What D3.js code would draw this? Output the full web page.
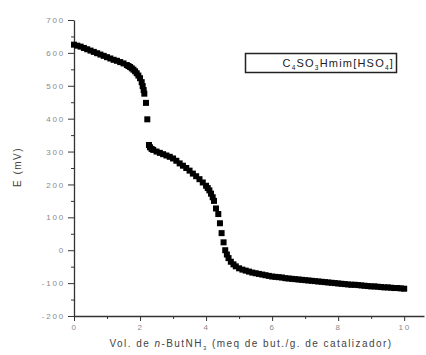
<!DOCTYPE html>
<html>
<head>
<meta charset="utf-8">
<script src="https://cdn.jsdelivr.net/npm/d3@7"></script>
<style>
  body { margin: 0; background: #fff; }
  svg { display: block; font-family: "Liberation Sans", Arial, sans-serif; }
</style>
</head>
<body>
<svg id="chart" width="426" height="355"></svg>
<script>
// Titration curve: volume of n-butylamine (meq/g) vs electrode potential (mV)
const volume = [
  0, 0.1, 0.2, 0.3, 0.4, 0.5, 0.6, 0.7, 0.8, 0.9,
  1.0, 1.1, 1.2, 1.3, 1.4, 1.5, 1.6, 1.65, 1.7, 1.75,
  1.8, 1.85, 1.9, 1.95, 2.0, 2.05, 2.08, 2.11, 2.13, 2.18,
  2.22, 2.27, 2.3, 2.35, 2.4, 2.5, 2.6, 2.7, 2.8, 2.9,
  3.0, 3.1, 3.2, 3.3, 3.4, 3.5, 3.6, 3.7, 3.8, 3.9,
  4.0, 4.05, 4.1, 4.15, 4.2, 4.24, 4.3, 4.37, 4.42, 4.47,
  4.53, 4.58, 4.63, 4.68, 4.75, 4.83, 4.9, 5.0, 5.1, 5.2,
  5.3, 5.4, 5.5, 5.6, 5.7, 5.8, 5.9, 6.0, 6.1, 6.2,
  6.3, 6.4, 6.5, 6.6, 6.7, 6.8, 6.9, 7.0, 7.1, 7.2,
  7.3, 7.4, 7.5, 7.6, 7.7, 7.8, 7.9, 8.0, 8.1, 8.2,
  8.3, 8.4, 8.5, 8.6, 8.7, 8.8, 8.9, 9.0, 9.1, 9.2,
  9.3, 9.4, 9.5, 9.6, 9.7, 9.8, 9.9, 10.0
];
const potential = [
  625, 622, 619, 615, 611, 607, 603, 599, 595, 591,
  587, 583, 579, 576, 572, 568, 563, 560, 557, 553,
  549, 544, 538, 531, 523, 511, 499, 487, 476, 448,
  398, 320, 313, 308, 305, 300, 296, 292, 288, 284,
  279, 272, 264, 257, 250, 242, 233, 225, 216, 206,
  196, 189, 182, 172, 161, 150, 127, 110, 82, 52,
  24, 0, -13, -24, -35, -43, -49, -55, -59, -62,
  -65, -68, -70, -72, -74, -76, -78, -80, -81, -82,
  -83, -85, -86, -87, -88, -89, -90, -91, -92, -93,
  -94, -95, -96, -97, -98, -99, -100, -101, -102, -103,
  -104, -105, -105, -106, -107, -108, -109, -110, -110, -111,
  -112, -113, -113, -114, -115, -115, -116, -117
];
const xTicks = [0, 2, 4, 6, 8, 10];
const xMinorTicks = [1, 3, 5, 7, 9];
const yTicks = [-200, -100, 0, 100, 200, 300, 400, 500, 600, 700];
const yMinorTicks = [-150, -50, 50, 150, 250, 350, 450, 550, 650];

const svg = d3.select("#chart");
const margin = {top: 20, right: 2, bottom: 39, left: 74};
const width = 426 - margin.left - margin.right;
const height = 355 - margin.top - margin.bottom;

const g = svg.append("g")
  .attr("transform", `translate(${margin.left},${margin.top})`);

const x = d3.scaleLinear().domain([0, 10.6]).range([0, width]);
const y = d3.scaleLinear().domain([-200, 700]).range([height, 0]);
const fmt = d => String(d);

// minor ticks first
g.append("g")
  .attr("transform", `translate(0,${height})`)
  .call(d3.axisBottom(x).tickValues(xMinorTicks).tickSize(3).tickFormat(""))
  .call(a => a.select(".domain").remove());
g.append("g")
  .call(d3.axisLeft(y).tickValues(yMinorTicks).tickSize(3).tickFormat(""))
  .call(a => a.select(".domain").remove());

const xAxis = g.append("g")
  .attr("transform", `translate(0,${height})`)
  .call(d3.axisBottom(x).tickValues(xTicks).tickFormat(fmt).tickSize(5).tickSizeOuter(0).tickPadding(3));
const yAxis = g.append("g")
  .call(d3.axisLeft(y).tickValues(yTicks).tickFormat(fmt).tickSize(6).tickSizeOuter(0).tickPadding(3));

[xAxis, yAxis].forEach(a => {
  a.selectAll("text")
    .style("font-size", "8px")
    .style("letter-spacing", "1.8px")
    .attr("fill", "#8a8a8a");
  a.select(".domain").attr("stroke", "#333").attr("stroke-width", 1.3);
});
g.selectAll(".tick line").attr("stroke", "#333");

// data points
const points = volume.map((v, i) => [v, potential[i]]);
const s = 6;
g.append("g")
  .selectAll("rect")
  .data(points)
  .join("rect")
  .attr("x", d => x(d[0]) - s / 2)
  .attr("y", d => y(d[1]) - s / 2)
  .attr("width", s)
  .attr("height", s)
  .attr("fill", "#000");

// axis titles
const xl = svg.append("text")
  .attr("x", 251)
  .attr("y", 347)
  .attr("text-anchor", "middle")
  .style("font-size", "10px")
  .style("letter-spacing", "1.45px")
  .attr("fill", "#444");
xl.append("tspan").text("Vol. de ");
xl.append("tspan").style("font-style", "italic").text("n");
xl.append("tspan").text("-ButNH");
xl.append("tspan").attr("dy", 3).style("font-size", "6px").text("3");
xl.append("tspan").attr("dy", -3).text(" (meq de but./g. de catalizador)");

svg.append("text")
  .attr("transform", "translate(21,167) rotate(-90)")
  .attr("text-anchor", "middle")
  .style("font-size", "10px")
  .style("letter-spacing", "1.5px")
  .attr("fill", "#444")
  .text("E (mV)");

// legend
svg.append("rect")
  .attr("x", 245.5).attr("y", 53.5)
  .attr("width", 151).attr("height", 19)
  .attr("fill", "#fff")
  .attr("stroke", "#222")
  .attr("stroke-width", 1.5);

const lg = svg.append("text")
  .attr("x", 394)
  .attr("y", 67)
  .attr("text-anchor", "end")
  .style("font-size", "11px")
  .style("letter-spacing", "1.2px")
  .attr("fill", "#222");
const parts = [["C", ""], ["4", "sub"], ["SO", ""], ["3", "sub"], ["Hmim[HSO", ""], ["4", "sub"], ["]", ""]];
let low = false;
parts.forEach(([t, k]) => {
  const ts = lg.append("tspan").text(t);
  if (k === "sub" && !low) { ts.attr("dy", 3).style("font-size", "6.5px"); low = true; }
  else if (k === "sub") { ts.style("font-size", "6.5px"); }
  else if (low) { ts.attr("dy", -3); low = false; }
});
</script>
</body>
</html>
